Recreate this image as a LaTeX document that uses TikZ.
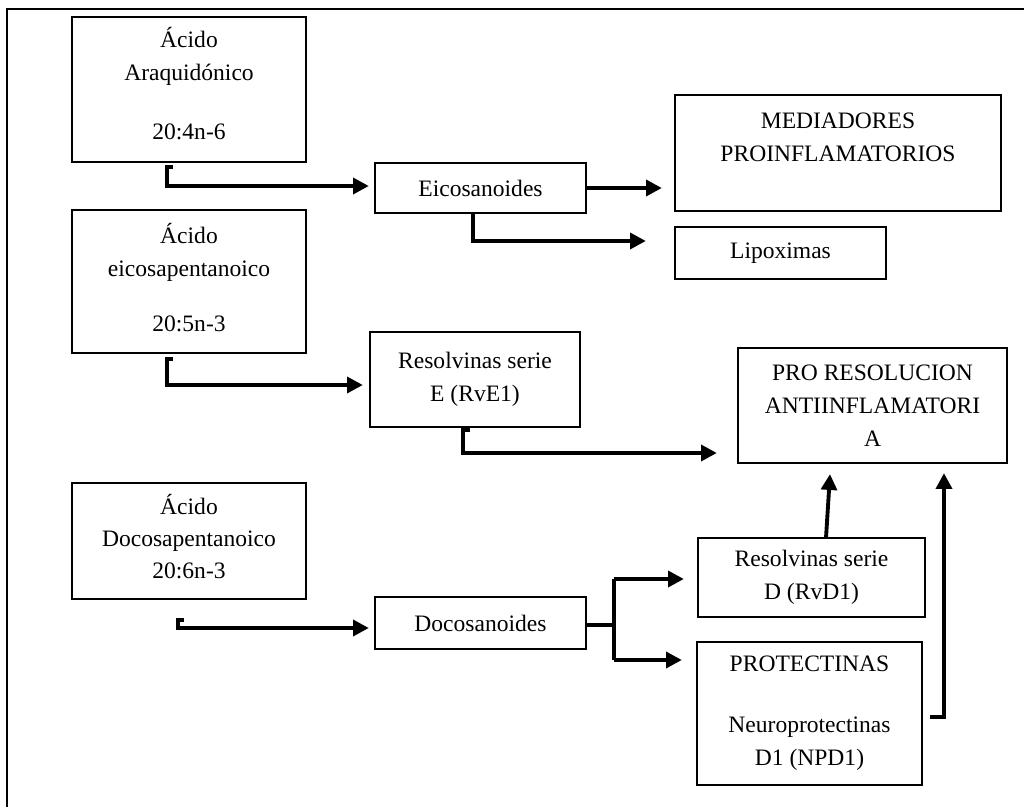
\documentclass[tikz,border=0pt]{standalone}
\usepackage{fontspec}
\setmainfont{Liberation Serif}
\usetikzlibrary{arrows.meta,calc}
\begin{document}
\begin{tikzpicture}[x=0.02cm,y=-0.02cm,
  box/.style={draw, line width=1.3pt, inner sep=0pt, align=center,
    font=\fontsize{13.4}{18.7}\selectfont},
  sz/.style 2 args={minimum width=#1*0.02cm, minimum height=#2*0.02cm},
  arr/.style={line width=2.2pt, -{Triangle[length=9pt,width=9pt]}},
  ln/.style={line width=2.2pt}]
\useasboundingbox (0,0) rectangle (1024,807);
\draw[line width=1.7pt] (7,830) -- (7,9) -- (1040,9);

\node[box, sz={234}{145}] (ara) at (189,89.5) {Ácido\\Araquidónico\\[15pt]20:4n-6\\[-11.8pt]\mbox{}};
\node[box, sz={234}{143}] (epa) at (189,281.5) {Ácido\\eicosapentanoico\\[13pt]20:5n-3\\[-14pt]\mbox{}};
\node[box, sz={234}{116}] (dpa) at (189,541) {Ácido\\[-0.6pt]Docosapentanoico\\[0pt]20:6n-3\\[-13.6pt]\mbox{}};
\node[box, sz={211}{50}] (eico) at (480.5,188) {Eicosanoides};
\node[box, sz={326}{116}] (medi) at (838,153) {MEDIADORES\\PROINFLAMATORIOS\\[-1pt]\mbox{}};
\node[box, sz={211}{52}] (lipo) at (780.5,253) {Lipoximas};
\node[box, sz={210}{95}] (rve) at (475,379.5) {Resolvinas serie\\E (RvE1)};
\node[box, sz={269}{115}] (pro) at (872.5,405.5) {PRO RESOLUCION\\ANTIINFLAMATORI\\A};
\node[box, sz={211}{52}] (dcs) at (480.5,623) {Docosanoides};
\node[box, sz={227}{79}] (rvd) at (811.5,577.5) {Resolvinas serie\\D (RvD1)};
\node[box, sz={225}{143}] (prot) at (809.5,713.5) {PROTECTINAS\\[16pt]Neuroprotectinas\\D1 (NPD1)};

% free ends
\coordinate (h1) at (173,167);
\coordinate (h2) at (173,359);
\coordinate (h3) at (184,620);
\coordinate (h4) at (470,430);
\coordinate (br) at (614,625);
\coordinate (bt) at (614,579);
\coordinate (bb) at (614,660);

\draw[arr] (h1) -- (167,167) -- (167,186) -- ([xshift=-0.1cm]eico.west |- 0,186);
\draw[arr] (h2) -- (167,359) -- (167,385) -- ([xshift=-0.12cm]rve.west |- 0,385);
\draw[arr] (h3) -- (178,620) -- (178,628) -- ([xshift=-0.1cm]dcs.west |- 0,628);
\draw[arr] (eico.east) -- ([xshift=-0.24cm]medi.west |- eico.east);
\draw[arr] ([xshift=-0.15cm]eico.south) -- (473,241) -- ([xshift=-0.56cm]lipo.west |- 0,241);
\draw[arr] (h4) -- (463,430) -- (463,453) -- ([xshift=-0.4cm]pro.west |- 0,453);
\draw[arr] ([xshift=0.29cm,yshift=-0.02cm]rvd.north) -- ([xshift=-0.85cm,yshift=-0.2cm]pro.south);
\draw[arr] ([xshift=0.14cm]prot.east |- 0,717) -- (944,717) -- ([xshift=1.43cm,yshift=-0.18cm]pro.south);
\draw[ln] (dcs.east |- br) -- (br);
\draw[ln] (bt) -- (bb);
\draw[arr] (bt) -- ([xshift=-0.26cm]rvd.west |- bt);
\draw[arr] (bb) -- ([xshift=-0.28cm]prot.west |- bb);
\end{tikzpicture}
\end{document}
